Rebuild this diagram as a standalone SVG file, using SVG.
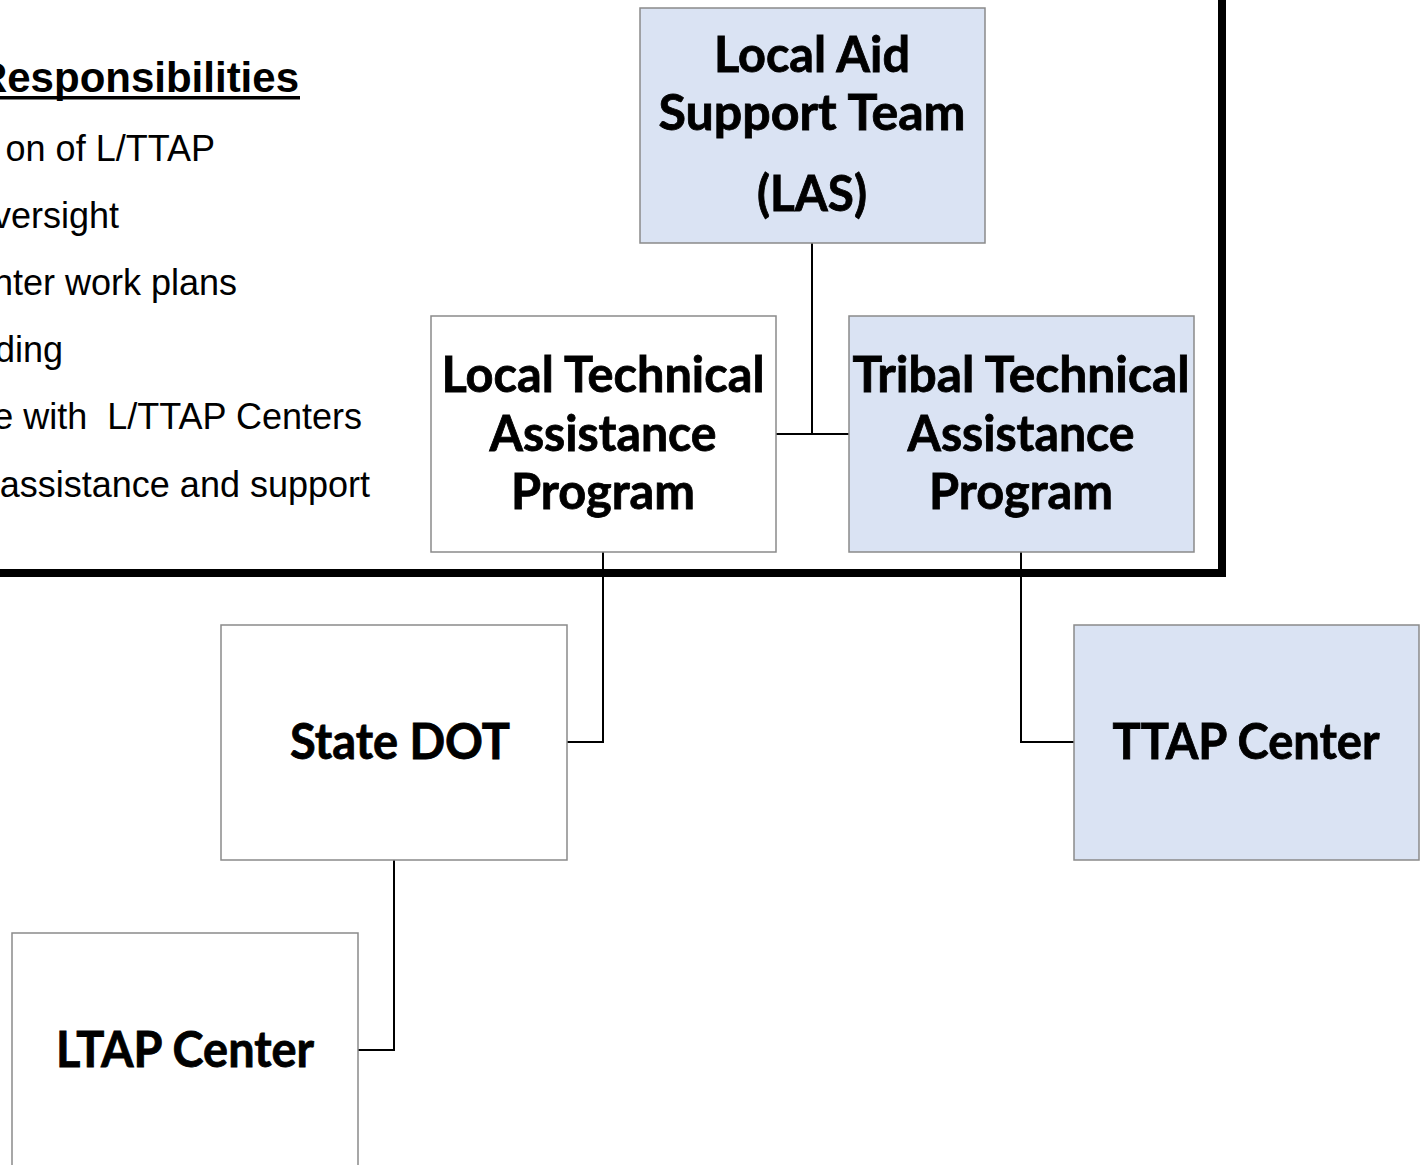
<svg xmlns="http://www.w3.org/2000/svg" width="1423" height="1165" viewBox="0 0 1423 1165">
<style>
.box{stroke:#8a8a8a;stroke-width:1.5}
.blue{fill:#dae3f3}
.white{fill:#ffffff}
.lbl{font-family:Lato,"Open Sans","Liberation Sans",sans-serif;font-weight:bold;font-size:49px;fill:#000;stroke:#000;stroke-width:0.8;text-anchor:middle}
.bul{font-family:"Liberation Sans",Arial,sans-serif;font-size:36px;fill:#000;text-anchor:end}
.head{font-family:"Liberation Sans",Arial,sans-serif;font-size:42px;font-weight:bold;fill:#000;text-anchor:end}
.conn{stroke:#000;stroke-width:2;fill:none}
</style>
<rect width="1423" height="1165" fill="#fff"/>
<g id="frame">
<path d="M0,573 H1222 V0" fill="none" stroke="#000" stroke-width="8"/>
</g>
<g id="responsibilities">
<text class="head" x="299" y="92">Responsibilities</text>
<rect x="0" y="96" width="300" height="3.5" fill="#000"/>
<text class="bul" x="215" y="161">on of L/TTAP</text>
<text class="bul" x="119" y="228">versight</text>
<text class="bul" x="237" y="295">nter work plans</text>
<text class="bul" x="63" y="362">ding</text>
<text class="bul" x="362" y="429" xml:space="preserve">e with  L/TTAP Centers</text>
<text class="bul" x="370" y="497">assistance and support</text>
</g>
<g id="connectors">
<path class="conn" d="M812,243 V434"/>
<path class="conn" d="M776,434 H849"/>
<path class="conn" d="M603,552 V742 H567"/>
<path class="conn" d="M1021,552 V742 H1074"/>
<path class="conn" d="M394,860 V1050 H358"/>
</g>
<g id="las">
<rect class="box blue" x="640" y="8" width="345" height="235"/>
<text class="lbl" x="812" y="72" textLength="196" lengthAdjust="spacingAndGlyphs">Local Aid</text>
<text class="lbl" x="812" y="130" textLength="307" lengthAdjust="spacingAndGlyphs">Support Team</text>
<text class="lbl" x="812" y="211" textLength="110" lengthAdjust="spacingAndGlyphs">(LAS)</text>
</g>
<g id="ltap-program">
<rect class="box white" x="431" y="316" width="345" height="236"/>
<text class="lbl" x="603" y="392" textLength="323" lengthAdjust="spacingAndGlyphs">Local Technical</text>
<text class="lbl" x="603" y="451" textLength="227" lengthAdjust="spacingAndGlyphs">Assistance</text>
<text class="lbl" x="603" y="509" textLength="184" lengthAdjust="spacingAndGlyphs">Program</text>
</g>
<g id="ttap-program">
<rect class="box blue" x="849" y="316" width="345" height="236"/>
<text class="lbl" x="1021" y="392" textLength="337" lengthAdjust="spacingAndGlyphs">Tribal Technical</text>
<text class="lbl" x="1021" y="451" textLength="227" lengthAdjust="spacingAndGlyphs">Assistance</text>
<text class="lbl" x="1021" y="509" textLength="184" lengthAdjust="spacingAndGlyphs">Program</text>
</g>
<g id="state-dot">
<rect class="box white" x="221" y="625" width="346" height="235"/>
<text class="lbl" x="400" y="759" textLength="220" lengthAdjust="spacingAndGlyphs">State DOT</text>
</g>
<g id="ttap-center">
<rect class="box blue" x="1074" y="625" width="345" height="235"/>
<text class="lbl" x="1246" y="759" textLength="267" lengthAdjust="spacingAndGlyphs">TTAP Center</text>
</g>
<g id="ltap-center">
<rect class="box white" x="12" y="933" width="346" height="240"/>
<text class="lbl" x="185" y="1067" textLength="258" lengthAdjust="spacingAndGlyphs">LTAP Center</text>
</g>
</svg>
